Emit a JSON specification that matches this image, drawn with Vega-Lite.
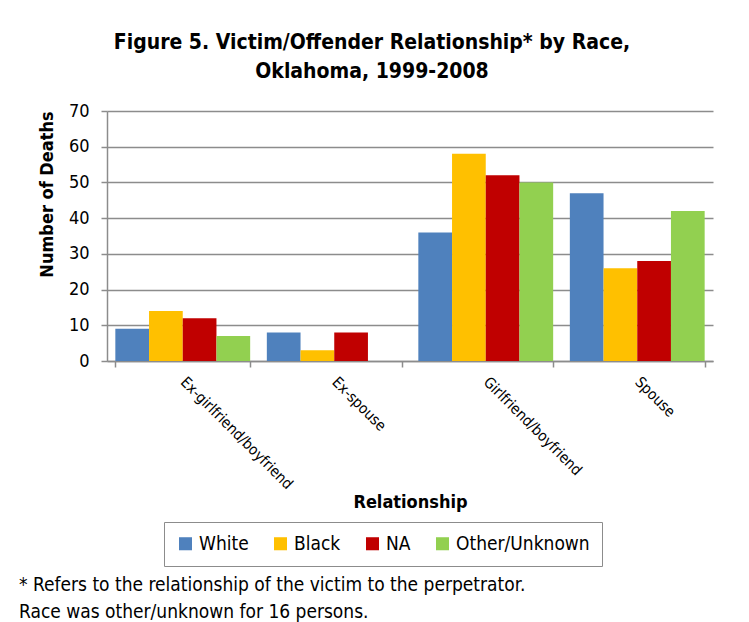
{
  "$schema": "https://vega.github.io/schema/vega-lite/v6.json",
  "padding": {"left": 19, "top": 32, "right": 36, "bottom": 2},
  "background": "white",
  "title": {
    "text": ["Figure 5. Victim/Offender Relationship* by Race,", "Oklahoma, 1999-2008"],
    "font": "DejaVu Sans Condensed",
    "fontSize": 21,
    "fontWeight": "bold",
    "color": "#000000",
    "anchor": "middle",
    "frame": "group",
    "dx": -38,
    "lineHeight": 29,
    "offset": 20
  },
  "config": {
    "font": "DejaVu Sans Condensed",
    "view": {"stroke": null},
    "axis": {"labelColor": "#000000", "titleColor": "#000000"}
  },
  "resolve": {"legend": {"color": "independent"}},
  "vconcat": [
    {
      "width": 606,
      "height": 250,
      "title": {
        "text": ["* Refers to the relationship of the victim to the perpetrator.", "Race was other/unknown for 16 persons."],
        "orient": "bottom",
        "anchor": "start",
        "frame": "group",
        "dx": -88,
        "offset": 9,
        "font": "DejaVu Sans Condensed",
        "fontSize": 19,
        "fontWeight": "normal",
        "lineHeight": 27,
        "color": "#000000"
      },
      "data": {
        "values": [
          {"relationship": "Ex-girlfriend/boyfriend", "race": "White", "deaths": 9},
          {"relationship": "Ex-girlfriend/boyfriend", "race": "Black", "deaths": 14},
          {"relationship": "Ex-girlfriend/boyfriend", "race": "NA", "deaths": 12},
          {"relationship": "Ex-girlfriend/boyfriend", "race": "Other/Unknown", "deaths": 7},
          {"relationship": "Ex-spouse", "race": "White", "deaths": 8},
          {"relationship": "Ex-spouse", "race": "Black", "deaths": 3},
          {"relationship": "Ex-spouse", "race": "NA", "deaths": 8},
          {"relationship": "Girlfriend/boyfriend", "race": "White", "deaths": 36},
          {"relationship": "Girlfriend/boyfriend", "race": "Black", "deaths": 58},
          {"relationship": "Girlfriend/boyfriend", "race": "NA", "deaths": 52},
          {"relationship": "Girlfriend/boyfriend", "race": "Other/Unknown", "deaths": 50},
          {"relationship": "Spouse", "race": "White", "deaths": 47},
          {"relationship": "Spouse", "race": "Black", "deaths": 26},
          {"relationship": "Spouse", "race": "NA", "deaths": 28},
          {"relationship": "Spouse", "race": "Other/Unknown", "deaths": 42}
        ]
      },
      "mark": {"type": "bar"},
      "encoding": {
        "x": {
          "field": "relationship",
          "type": "nominal",
          "scale": {"paddingInner": 0.11, "paddingOuter": 0.055},
          "axis": {
            "title": "Relationship",
            "titleFontSize": 18,
            "titleFontWeight": "bold",
            "titleY": 132,
            "titleBaseline": "top",
            "labelAngle": 45,
            "labelAlign": "left",
            "labelBaseline": "middle",
            "labelFontSize": 15,
            "labelPadding": 12,
            "tickBand": "extent",
            "tickSize": 6,
            "tickColor": "#8c8c8c",
            "tickWidth": 1.5,
            "domainColor": "#8c8c8c",
            "domainWidth": 1.5,
            "grid": false
          }
        },
        "xOffset": {
          "field": "race",
          "type": "nominal",
          "scale": {"domain": ["White", "Black", "NA", "Other/Unknown"], "paddingInner": 0, "paddingOuter": 0}
        },
        "y": {
          "field": "deaths",
          "type": "quantitative",
          "scale": {"domain": [0, 70], "nice": false},
          "axis": {
            "title": "Number of Deaths",
            "titleFontSize": 18,
            "titleFontWeight": "bold",
            "titlePadding": 12,
            "titleY": 83,
            "values": [0, 10, 20, 30, 40, 50, 60, 70],
            "labelFontSize": 18,
            "labelPadding": 12,
            "tickSize": 6,
            "tickColor": "#8c8c8c",
            "tickWidth": 1.5,
            "domainColor": "#8c8c8c",
            "domainWidth": 1.5,
            "gridColor": "#8c8c8c",
            "gridWidth": 1.5
          }
        },
        "color": {
          "field": "race",
          "type": "nominal",
          "scale": {"domain": ["White", "Black", "NA", "Other/Unknown"], "range": ["#4f81bd", "#ffc000", "#c00000", "#92d050"]},
          "legend": {
            "title": null,
            "orient": "none",
            "legendX": 57,
            "legendY": 411,
            "direction": "horizontal",
            "symbolType": "square",
            "symbolSize": 170,
            "symbolStrokeWidth": 0,
            "labelFontSize": 19,
            "labelFont": "DejaVu Sans Condensed",
            "labelColor": "#000000",
            "columnPadding": 22,
            "labelOffset": 4,
            "strokeColor": "#8c8c8c",
            "padding": 12
          }
        }
      }
    }
  ]
}
